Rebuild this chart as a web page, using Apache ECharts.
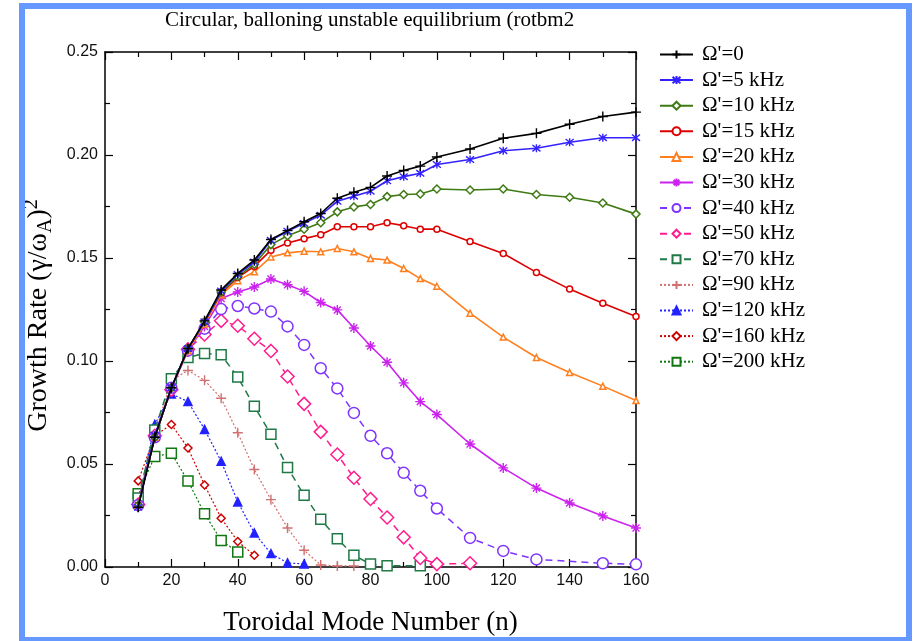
<!DOCTYPE html>
<html><head><meta charset="utf-8">
<script src="https://cdn.jsdelivr.net/npm/echarts@6/dist/echarts.min.js"></script>
<style>html,body{margin:0;padding:0;background:#fff}#c{width:913px;height:641px}</style>
</head><body><div id="c"></div>
<script>
const titleText = "Circular, balloning unstable equilibrium (rotbm2";
const xName = "Toroidal Mode Number (n)";
const legendNames = ["Ω'=0","Ω'=5 kHz","Ω'=10 kHz","Ω'=15 kHz","Ω'=20 kHz","Ω'=30 kHz","Ω'=40 kHz","Ω'=50 kHz","Ω'=70 kHz","Ω'=90 kHz","Ω'=120 kHz","Ω'=160 kHz","Ω'=200 kHz"];
const xTicks = [0,20,40,60,80,100,120,140,160];
const yTicks = [0,0.05,0.10,0.15,0.20,0.25];

const nFull = [10,15,20,25,30,35,40,45,50,55,60,65,70,75,80,85,90,95,100,110,120,130,140,150,160];
const n40  = [10,15,20,25,30,35,40,45,50,55,60,65,70,75,80,85,90,95,100,110,120,130,150,160];
const n50  = [10,15,20,25,30,35,40,45,50,55,60,65,70,75,80,85,90,95,100,110];
const n70  = [10,15,20,25,30,35,40,45,50,55,60,65,70,75,80,85,95];
const n90  = [10,15,20,25,30,35,40,45,50,55,60,65,70,75];
const n120 = [10,15,20,25,30,35,40,45,50,55,60];
const n160 = [10,15,20,25,30,35,40,45];
const n200 = [10,15,20,25,30,35,40];

const g0   = [0.029,0.063,0.087,0.106,0.1195,0.1345,0.1425,0.149,0.159,0.1633,0.1676,0.1716,0.179,0.1819,0.1843,0.1898,0.1925,0.1946,0.199,0.2029,0.2081,0.2105,0.2149,0.2187,0.2208];
const g5   = [0.029,0.064,0.087,0.106,0.119,0.134,0.142,0.148,0.1586,0.163,0.1668,0.1708,0.1775,0.18,0.1824,0.1875,0.1895,0.1911,0.1954,0.1978,0.2021,0.2033,0.2062,0.2084,0.2084];
const g10  = [0.030,0.063,0.087,0.106,0.119,0.1335,0.141,0.147,0.1565,0.1608,0.164,0.1671,0.1724,0.1748,0.176,0.1798,0.1808,0.1811,0.1835,0.183,0.1835,0.1808,0.1795,0.1767,0.1713];
const g15  = [0.030,0.063,0.087,0.106,0.119,0.133,0.1405,0.1459,0.1538,0.1573,0.1594,0.1613,0.1652,0.1652,0.1652,0.1671,0.1657,0.164,0.164,0.158,0.1522,0.143,0.1349,0.128,0.1216];
const g20  = [0.030,0.063,0.087,0.105,0.118,0.1322,0.139,0.1433,0.1505,0.1525,0.1533,0.153,0.1546,0.153,0.1498,0.149,0.1449,0.140,0.1363,0.1232,0.1116,0.1017,0.0944,0.0878,0.0808];
const g30  = [0.030,0.063,0.087,0.105,0.1168,0.1303,0.1335,0.1359,0.1398,0.137,0.1338,0.1284,0.1248,0.116,0.1073,0.0994,0.0894,0.0803,0.074,0.0597,0.0481,0.0383,0.0311,0.0248,0.0189];
const g40  = [0.030,0.063,0.087,0.105,0.1157,0.1252,0.1267,0.1255,0.124,0.1168,0.1078,0.0965,0.0867,0.0748,0.0637,0.0552,0.0457,0.037,0.0284,0.0141,0.0078,0.0037,0.0018,0.0013];
const g50  = [0.0303,0.0637,0.086,0.1057,0.1129,0.1195,0.1171,0.1108,0.1049,0.0925,0.0792,0.0656,0.0546,0.0433,0.033,0.024,0.0144,0.0044,0.0014,0.0018];
const g70  = [0.0335,0.0665,0.0914,0.1017,0.1037,0.103,0.0922,0.078,0.0644,0.0483,0.0348,0.0232,0.0137,0.0057,0.0014,0.0006,0.0006];
const g90  = [0.032,0.065,0.0906,0.0954,0.0906,0.0819,0.0652,0.0473,0.0327,0.0189,0.0081,0.001,0.0005,0.0005];
const g120 = [0.031,0.0692,0.084,0.0803,0.0668,0.0513,0.0316,0.0165,0.0065,0.002,0.0015];
const g160 = [0.0418,0.0637,0.0692,0.0578,0.0398,0.0237,0.0124,0.0057];
const g200 = [0.0356,0.0537,0.0552,0.0418,0.0259,0.0129,0.0073];

const xs = [nFull,nFull,nFull,nFull,nFull,nFull,n40,n50,n70,n90,n120,n160,n200];
const ys = [g0,g5,g10,g15,g20,g30,g40,g50,g70,g90,g120,g160,g200];

const PLUS = 'path://M0,5L10,5M5,0L5,10';
const STAR = 'path://M5,0L5,10M0,5L10,5M1.5,1.5L8.5,8.5M8.5,1.5L1.5,8.5';
const XBAR = 'path://M1,1L9,9M9,1L1,9M5,0L5,10';
const styles = [
  {c:'#000000', sym:PLUS, size:10, open:false, stroke:true, type:'solid', w:1.6},
  {c:'#3322ff', sym:XBAR, size:8, open:false, stroke:true, type:'solid', w:1.6},
  {c:'#3f7a14', sym:'diamond', size:8, open:true, type:'solid', w:1.6},
  {c:'#dd0000', sym:'circle', size:6, open:true, type:'solid', w:1.6},
  {c:'#ff7f1f', sym:'triangle', size:6, open:true, type:'solid', w:1.6},
  {c:'#cc22ee', sym:STAR, size:10, open:false, stroke:true, type:'solid', w:1.6},
  {c:'#7f33ff', sym:'circle', size:11, open:true, type:[7,5], w:1.5},
  {c:'#ff1c8e', sym:'diamond', size:13, open:true, type:[7,5], w:1.5},
  {c:'#1f7a47', sym:'rect', size:10, open:true, type:[7,5], w:1.5},
  {c:'#d07070', sym:PLUS, size:10, open:false, stroke:true, type:[2,2], w:1.2},
  {c:'#2222ff', sym:'triangle', size:8, open:false, type:[2,2], w:1.2},
  {c:'#cc0000', sym:'diamond', size:8, open:true, type:[2,2], w:1.2},
  {c:'#117711', sym:'rect', size:10, open:true, type:[2,2], w:1.2}
];

const series = legendNames.map((name,i)=>{
  const s = styles[i];
  return {
    name, type:'line', xAxisIndex:0, yAxisIndex:0,
    data: xs[i].map((n,k)=>[n, ys[i][k]]),
    symbol: s.sym, symbolSize: s.size, showSymbol:true,
    lineStyle:{color:s.c, width:s.w, type:s.type},
    itemStyle:{color: s.open ? '#ffffff' : s.c, borderColor:s.c, borderWidth: s.stroke ? 1.4 : 1.5},
    z: 20 - i, animation:false
  };
});

const serif = 'Liberation Serif, Times New Roman, serif';
const tickFont = {fontFamily:'Liberation Sans, Arial, sans-serif', fontSize:16, color:'#111'};
const axisCommon = {
  axisLine:{show:true, onZero:false, lineStyle:{color:'#000', width:1.5}},
  axisTick:{show:true, inside:true, length:8, lineStyle:{color:'#000', width:1.2}},
  minorTick:{show:true, splitNumber:2, length:5, lineStyle:{color:'#000', width:1.2}},
  splitLine:{show:false}
};

const chart = echarts.init(document.getElementById('c'), null, {renderer:'canvas'});
chart.setOption({
  animation:false,
  backgroundColor:'#fff',
  title:{text:titleText, left:160, top:5, textStyle:{fontFamily:serif, fontSize:21, fontWeight:'normal', color:'#000'}},
  grid:{left:105, right:277, top:52, bottom:64, containLabel:false},
  legend:{
    orient:'vertical', left:654, top:39, itemWidth:33, itemHeight:10, itemGap:4.6,
    data:legendNames,
    textStyle:{fontFamily:serif, fontSize:21, color:'#000', padding:[0,0,0,4]}
  },
  xAxis:[
    Object.assign({type:'value', position:'bottom', min:xTicks[0], max:xTicks[xTicks.length-1], interval:20,
      name:xName, nameLocation:'middle', nameGap:42,
      nameTextStyle:{fontFamily:serif, fontSize:27, color:'#000'},
      axisLabel:Object.assign({margin:6}, tickFont)}, axisCommon),
    Object.assign({type:'value', position:'top', min:xTicks[0], max:xTicks[xTicks.length-1], interval:20,
      axisLabel:{show:false}}, axisCommon)
  ],
  yAxis:[
    Object.assign({type:'value', position:'left', min:yTicks[0], max:yTicks[yTicks.length-1], interval:0.05,
      name:'{n|Growth Rate (γ/ω}{sub|A}{n|)}{sup|2}', nameLocation:'middle', nameGap:37, nameRotate:90,
      nameTextStyle:{fontFamily:serif, fontSize:28, color:'#000', padding:[0,12,0,0],
        rich:{
          n:{fontFamily:serif, fontSize:28, color:'#000', lineHeight:34, verticalAlign:'middle'},
          sub:{fontFamily:serif, fontSize:20, color:'#000', lineHeight:34, verticalAlign:'bottom'},
          sup:{fontFamily:serif, fontSize:20, color:'#000', lineHeight:34, verticalAlign:'top'}
        }},
      axisLabel:Object.assign({margin:7, formatter:v=>v.toFixed(2)}, tickFont)}, axisCommon),
    Object.assign({type:'value', position:'right', min:yTicks[0], max:yTicks[yTicks.length-1], interval:0.05,
      axisLabel:{show:false}}, axisCommon)
  ],
  graphic:[{type:'rect', silent:true, z:100, shape:{x:22, y:6, width:887, height:634},
    style:{fill:null, stroke:'#6699ff', lineWidth:6}}],
  series
});
</script></body></html>
